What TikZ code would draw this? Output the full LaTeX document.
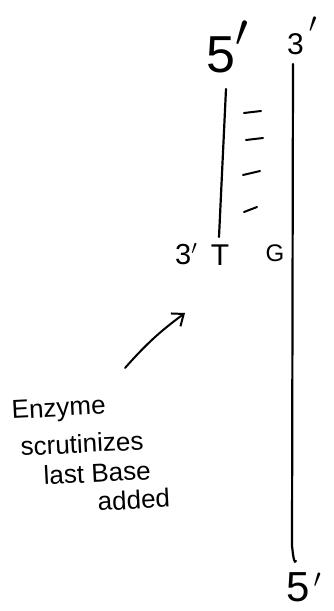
\documentclass[tikz,border=0pt]{standalone}
\usepackage{fix-cm}
\usepackage{fontspec}
\setmainfont{Liberation Sans}
\usetikzlibrary{arrows.meta}
\newcommand{\hwprime}[3]{\hspace{#1}\raisebox{#2}{\fontsize{#3}{#3}\selectfont$\prime$}}
\begin{document}
\begin{tikzpicture}[x=1pt,y=-1pt,
  strand/.style={line width=2.2pt,line cap=round},
  hbond/.style={line width=2pt,line cap=round},
  lbl/.style={inner sep=0pt},
  note/.style={inner sep=0pt,font=\fontsize{26}{30}\selectfont,anchor=base west,rotate=3}]
\useasboundingbox (0,0) rectangle (333,611);
\fill[white] (0,0) rectangle (333,611);
% end labels
\node[lbl,anchor=base west,font=\fontsize{52}{52}\selectfont] (top5) at (206,72) {5\hwprime{0pt}{26pt}{46}};
\node[lbl,anchor=base west,font=\fontsize{30}{30}\selectfont] (top3) at (287,54) {3\hwprime{5pt}{22pt}{28}};
\node[lbl,anchor=base west,font=\fontsize{42}{42}\selectfont] (bot5) at (286,601) {5\hwprime{4pt}{14pt}{26}};
\node[lbl,anchor=base west,font=\fontsize{29}{29}\selectfont] (lo3) at (175,264) {3\hwprime{0pt}{10pt}{20}};
\node[lbl,anchor=base,font=\fontsize{30}{30}\selectfont] (T) at (220,265) {T};
\node[lbl,anchor=base,font=\fontsize{24}{24}\selectfont] (G) at (275,261) {G};
% strands
\coordinate (ls) at (226,89);
\coordinate (le) at (219,237);
\coordinate (rs) at (293,64);
\coordinate (re) at (296,561);
\draw[strand] (ls) -- (le);
\draw[strand] (rs) -- (292,547) to[out=90,in=-120] (re);
% hydrogen bonds
\draw[hbond] (244,113) -- (261,111);
\draw[hbond] (246,140) -- (263,138);
\draw[hbond] (243,175) -- (260,171);
\draw[hbond] (244,212) -- (257,207);
% arrow
\coordinate (at) at (125,368);
\coordinate (ah) at (185,313);
\draw[line width=2pt,line cap=round,-{Straight Barb[length=10pt,width=16pt,line width=2pt]}] (at) to[bend left=6] (ah);
% note
\node[note] (n1) at (12,419) {Enzyme};
\node[note] (n2) at (21,456) {scrutinizes};
\node[note] (n3) at (44,485) {last Base};
\node[note] (n4) at (98,511) {added};
\end{tikzpicture}
\end{document}
